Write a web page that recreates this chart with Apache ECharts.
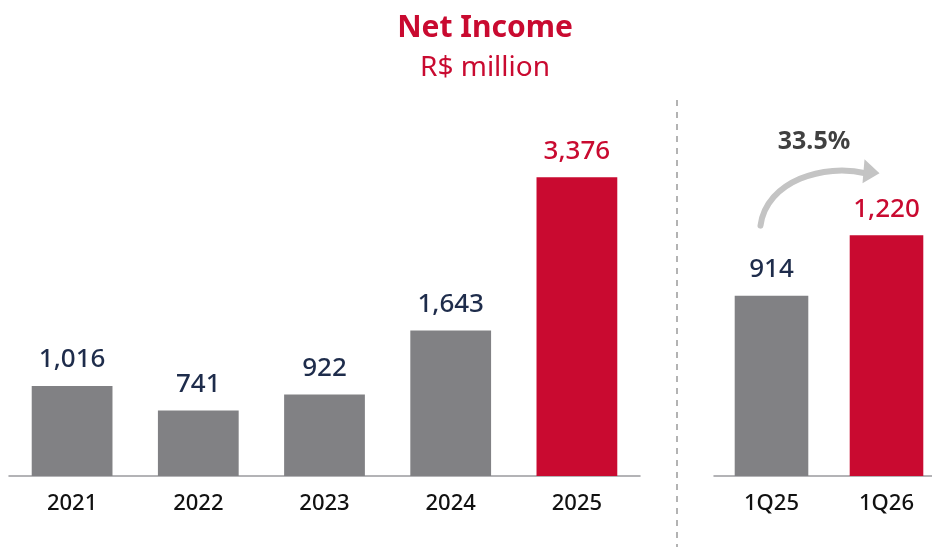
<!DOCTYPE html>
<html>
<head>
<meta charset="utf-8">
<script src="https://cdn.jsdelivr.net/npm/echarts@6/dist/echarts.min.js"></script>
<style>
  html, body { margin: 0; padding: 0; background: #fff; }
  #chart { width: 932px; height: 547px; }
</style>
</head>
<body>
<div id="chart"></div>
<script>
// annual net income, R$ million
const years = ['2021', '2022', '2023', '2024', '2025']
const yearValues = [1016, 741, 922, 1643, 3376]
// quarterly comparison
const quarters = ['1Q25', '1Q26']
const quarterValues = [914, 1220]

const GRAY = '#818184'
const RED = '#c90a30'
const NAVY = '#1e2c4b'
const FONT = 'Noto Sans'

const growth = ((quarterValues[1] / quarterValues[0] - 1) * 100).toFixed(1) + '%'

// last bar of each group is highlighted in red
function barData (values) {
  return values.map((v, i) => {
    const last = i === values.length - 1
    return {
      value: v,
      itemStyle: { color: last ? RED : GRAY },
      label: { color: last ? RED : NAVY }
    }
  })
}

const dom = document.getElementById('chart')
const chart = echarts.init(dom)

const axisCommon = {
  type: 'category',
  axisLine: { lineStyle: { color: '#9a9a9e', width: 1.5 } },
  axisTick: { show: false },
  axisLabel: { color: '#111', fontSize: 22, fontWeight: 500, fontFamily: FONT, margin: 17 }
}

const barLabel = {
  show: true,
  position: 'top',
  distance: 13,
  fontSize: 26,
  fontWeight: 500,
  fontFamily: FONT,
  formatter: p => p.value.toLocaleString('en-US')
}

const option = {
  animation: false,
  title: [
    {
      text: 'Net Income',
      left: 480,
      top: 8,
      textAlign: 'center',
      textStyle: { color: RED, fontSize: 30, fontWeight: 'bold', fontFamily: FONT }
    },
    {
      text: 'R$ million',
      left: 480,
      top: 49,
      textAlign: 'center',
      textStyle: { color: RED, fontSize: 28, fontWeight: 'normal', fontFamily: FONT }
    }
  ],
  grid: [
    { left: 9, right: 292, top: 122, bottom: 71, outerBoundsMode: 'none' },
    { left: 714, width: 230, top: 180, bottom: 71, outerBoundsMode: 'none' }
  ],
  xAxis: [
    Object.assign({ gridIndex: 0, data: years }, axisCommon),
    Object.assign({ gridIndex: 1, data: quarters }, axisCommon)
  ],
  yAxis: [
    { gridIndex: 0, min: 0, max: 4000, show: false },
    { gridIndex: 1, min: 0, max: 1500, show: false }
  ],
  series: [
    {
      type: 'bar',
      xAxisIndex: 0,
      yAxisIndex: 0,
      barWidth: '64%',
      data: barData(yearValues),
      label: barLabel
    },
    {
      type: 'bar',
      xAxisIndex: 1,
      yAxisIndex: 1,
      barWidth: '64%',
      data: barData(quarterValues),
      label: barLabel
    }
  ]
}
chart.setOption(option)

// separator and growth arrow, placed relative to the quarter bars
const q0 = chart.convertToPixel({ xAxisIndex: 1, yAxisIndex: 1 }, [0, quarterValues[0]])
const q1 = chart.convertToPixel({ xAxisIndex: 1, yAxisIndex: 1 }, [1, quarterValues[1]])
const sx = q0[0] - 11
const sy = q0[1] - 70
const tx = q1[0] - 7
const ty = q1[1] - 62

chart.setOption({
  graphic: [
    {
      type: 'line',
      shape: { x1: 677, y1: 100, x2: 677, y2: 547 },
      style: { stroke: '#9a9a9a', lineWidth: 1.5, lineDash: [6, 6] }
    },
    {
      type: 'bezierCurve',
      shape: { x1: sx, y1: sy, cpx1: sx + 6, cpy1: sy - 45, cpx2: tx - 55, cpy2: ty - 10, x2: tx - 14, y2: ty },
      style: { stroke: '#c4c4c4', lineWidth: 6, fill: null, lineCap: 'round' }
    },
    {
      type: 'polygon',
      shape: { points: [[tx, ty], [tx - 15, ty - 14], [tx - 17, ty + 10]] },
      style: { fill: '#c4c4c4' }
    },
    {
      type: 'text',
      x: (sx + tx) / 2 - 6,
      y: ty - 31,
      style: {
        text: growth,
        fill: '#404040',
        font: 'bold 25px "' + FONT + '"',
        textAlign: 'center',
        textVerticalAlign: 'middle'
      }
    }
  ]
})
</script>
</body>
</html>
